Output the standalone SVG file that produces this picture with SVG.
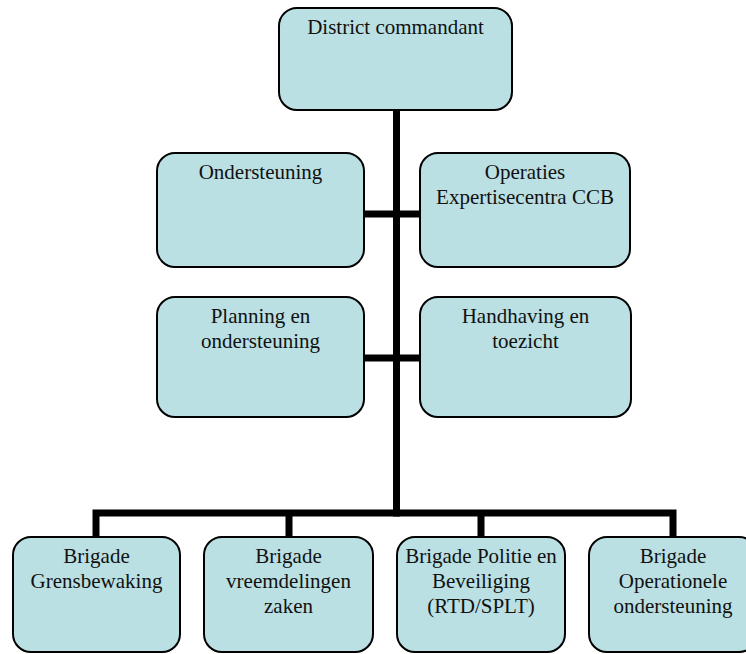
<svg xmlns="http://www.w3.org/2000/svg" width="746" height="654" viewBox="0 0 746 654">
<style>
.box{fill:#BAE0E3;stroke:#000;stroke-width:2}
.t{font-size:21px;fill:#111;text-anchor:middle}
.c{stroke:#000;stroke-width:7;fill:none}
</style>
<rect width="746" height="654" fill="#fff"/>
<g id="connectors">
<line class="c" x1="396.5" y1="110" x2="396.5" y2="516.5"/>
<line class="c" x1="364" y1="214" x2="420" y2="214"/>
<line class="c" x1="364" y1="358" x2="420" y2="358"/>
<polyline class="c" points="96,537 96,513 673,513 673,537"/>
<line class="c" x1="289" y1="513" x2="289" y2="537"/>
<line class="c" x1="481" y1="513" x2="481" y2="537"/>
</g>
<g font-family="Liberation Serif, Times New Roman, DejaVu Serif, serif">
<g id="district">
<rect class="box" x="279" y="8" width="233" height="102" rx="18"/>
<text class="t" x="395.5" y="34">District commandant</text>
</g>
<g id="ondersteuning">
<rect class="box" x="157" y="153" width="207" height="114" rx="18"/>
<text class="t" x="260.5" y="179">Ondersteuning</text>
</g>
<g id="operaties">
<rect class="box" x="420" y="153" width="210" height="114" rx="18"/>
<text class="t" x="525" y="179">Operaties</text>
<text class="t" x="525" y="204">Expertisecentra CCB</text>
</g>
<g id="planning">
<rect class="box" x="157" y="297" width="207" height="120" rx="18"/>
<text class="t" x="260.5" y="323">Planning en</text>
<text class="t" x="260.5" y="348">ondersteuning</text>
</g>
<g id="handhaving">
<rect class="box" x="420" y="297" width="211" height="120" rx="18"/>
<text class="t" x="525.5" y="323">Handhaving en</text>
<text class="t" x="525.5" y="348">toezicht</text>
</g>
<g id="grensbewaking">
<rect class="box" x="13" y="537" width="167" height="115" rx="18"/>
<text class="t" x="96.5" y="563">Brigade</text>
<text class="t" x="96.5" y="588">Grensbewaking</text>
</g>
<g id="vreemdelingen">
<rect class="box" x="204" y="537" width="169" height="115" rx="18"/>
<text class="t" x="288.5" y="563">Brigade</text>
<text class="t" x="288.5" y="588">vreemdelingen</text>
<text class="t" x="288.5" y="613">zaken</text>
</g>
<g id="politie">
<rect class="box" x="397" y="537" width="168" height="115" rx="18"/>
<text class="t" x="481" y="563">Brigade Politie en</text>
<text class="t" x="481" y="588">Beveiliging</text>
<text class="t" x="481" y="613">(RTD/SPLT)</text>
</g>
<g id="operationele">
<rect class="box" x="589" y="537" width="168" height="115" rx="18"/>
<text class="t" x="673" y="563">Brigade</text>
<text class="t" x="673" y="588">Operationele</text>
<text class="t" x="673" y="613">ondersteuning</text>
</g>
</g>
</svg>
